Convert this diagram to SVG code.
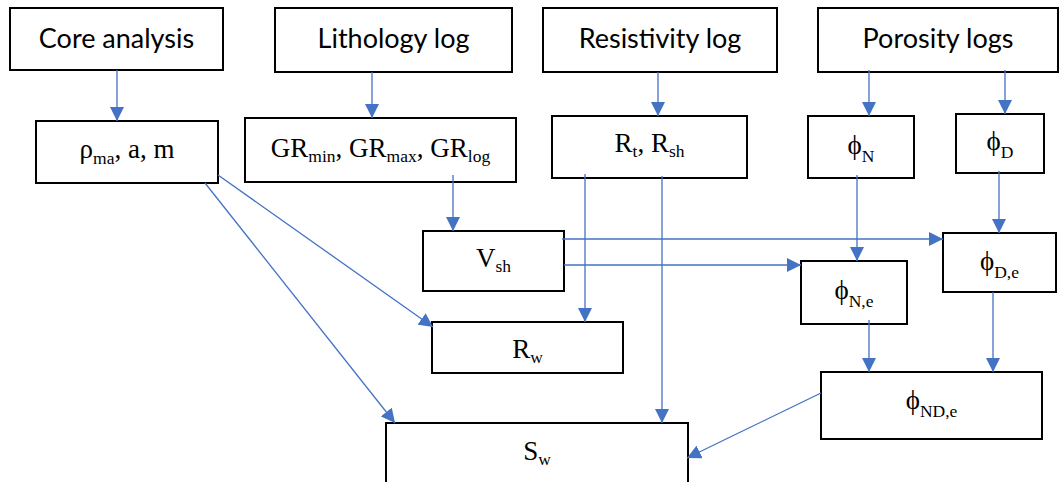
<svg xmlns="http://www.w3.org/2000/svg" width="1060" height="482" viewBox="0 0 1060 482">
  <style>
    .box { fill: #ffffff; stroke: #000000; stroke-width: 2; }
    .head { font-family: "Lato", "Liberation Sans", sans-serif; font-size: 27px; fill: #000000; text-anchor: middle; }
    .sym { font-family: "Liberation Serif", "Times New Roman", serif; font-size: 27px; fill: #000000; text-anchor: middle; }
    .sub { font-size: 17.5px; }
    .link { fill: none; stroke: #4472C4; stroke-width: 1.3; marker-end: url(#arrow); }
  </style>
  <defs>
    <marker id="arrow" markerUnits="userSpaceOnUse" markerWidth="14" markerHeight="14" refX="14" refY="7" orient="auto">
      <path d="M0,0 L14,7 L0,14 Z" fill="#4472C4"/>
    </marker>
  </defs>
  <rect width="1060" height="482" fill="#ffffff"/>

  <!-- data sources -->
  <g id="core-analysis">
    <rect class="box" x="10" y="8" width="213" height="62"/>
    <text class="head" x="116.5" y="48">Core analysis</text>
  </g>
  <g id="lithology-log">
    <rect class="box" x="275" y="8" width="237" height="64"/>
    <text class="head" x="393.5" y="48">Lithology log</text>
  </g>
  <g id="resistivity-log">
    <rect class="box" x="543" y="8" width="234" height="64"/>
    <text class="head" x="660" y="48">Resistivity log</text>
  </g>
  <g id="porosity-logs">
    <rect class="box" x="818" y="8" width="240" height="64"/>
    <text class="head" x="938" y="48">Porosity logs</text>
  </g>

  <!-- parameters -->
  <g id="rho-a-m">
    <rect class="box" x="36" y="121" width="182" height="62"/>
    <text class="sym" x="127" y="158">ρ<tspan class="sub" dy="6">ma</tspan><tspan dy="-6">, a, m</tspan></text>
  </g>
  <g id="gr">
    <rect class="box" x="245" y="118" width="271" height="64"/>
    <text class="sym" x="380.5" y="157">GR<tspan class="sub" dy="5">min</tspan><tspan dy="-5">, GR</tspan><tspan class="sub" dy="5">max</tspan><tspan dy="-5">, GR</tspan><tspan class="sub" dy="5">log</tspan></text>
  </g>
  <g id="rt-rsh">
    <rect class="box" x="552" y="116" width="195" height="62"/>
    <text class="sym" x="649.5" y="152">R<tspan class="sub" dy="5">t</tspan><tspan dy="-5">, R</tspan><tspan class="sub" dy="5">sh</tspan></text>
  </g>
  <g id="phi-n">
    <rect class="box" x="808" y="116" width="106" height="62"/>
    <text class="sym" x="861" y="154">ϕ<tspan class="sub" dy="8">N</tspan></text>
  </g>
  <g id="phi-d">
    <rect class="box" x="956" y="114" width="88" height="59"/>
    <text class="sym" x="1000" y="150">ϕ<tspan class="sub" dy="8">D</tspan></text>
  </g>

  <!-- derived quantities -->
  <g id="vsh">
    <rect class="box" x="423" y="231" width="141" height="60"/>
    <text class="sym" x="493.5" y="267">V<tspan class="sub" dy="5">sh</tspan></text>
  </g>
  <g id="rw">
    <rect class="box" x="432" y="322" width="191" height="51"/>
    <text class="sym" x="527.5" y="358">R<tspan class="sub" dy="5">w</tspan></text>
  </g>
  <g id="sw">
    <rect class="box" x="386" y="423" width="302" height="70"/>
    <text class="sym" x="537" y="460">S<tspan class="sub" dy="5">w</tspan></text>
  </g>
  <g id="phi-n-e">
    <rect class="box" x="801" y="261" width="106" height="63"/>
    <text class="sym" x="854" y="299">ϕ<tspan class="sub" dy="8">N,e</tspan></text>
  </g>
  <g id="phi-d-e">
    <rect class="box" x="943" y="233" width="113" height="59"/>
    <text class="sym" x="999.5" y="270">ϕ<tspan class="sub" dy="8">D,e</tspan></text>
  </g>
  <g id="phi-nd-e">
    <rect class="box" x="821" y="372" width="221" height="67"/>
    <text class="sym" x="931.5" y="409">ϕ<tspan class="sub" dy="8">ND,e</tspan></text>
  </g>

  <!-- connectors -->
  <g id="connectors">
    <line class="link" x1="117" y1="70" x2="117" y2="121"/>
    <line class="link" x1="372" y1="72" x2="372" y2="118"/>
    <line class="link" x1="658" y1="72" x2="658" y2="116"/>
    <line class="link" x1="869" y1="70" x2="869" y2="116"/>
    <line class="link" x1="1005" y1="70" x2="1005" y2="114"/>
    <line class="link" x1="218" y1="175" x2="433" y2="327"/>
    <line class="link" x1="205" y1="183" x2="395" y2="423"/>
    <line class="link" x1="453" y1="175" x2="453" y2="231"/>
    <line class="link" x1="585" y1="174" x2="585" y2="322"/>
    <line class="link" x1="662" y1="176" x2="662" y2="423"/>
    <line class="link" x1="562" y1="239" x2="943" y2="239"/>
    <line class="link" x1="564" y1="265" x2="801" y2="265"/>
    <line class="link" x1="857" y1="175" x2="857" y2="261"/>
    <line class="link" x1="999" y1="171" x2="999" y2="233"/>
    <line class="link" x1="869" y1="320" x2="869" y2="372"/>
    <line class="link" x1="993" y1="292" x2="993" y2="372"/>
    <line class="link" x1="821" y1="393" x2="687" y2="458"/>
  </g>
</svg>
